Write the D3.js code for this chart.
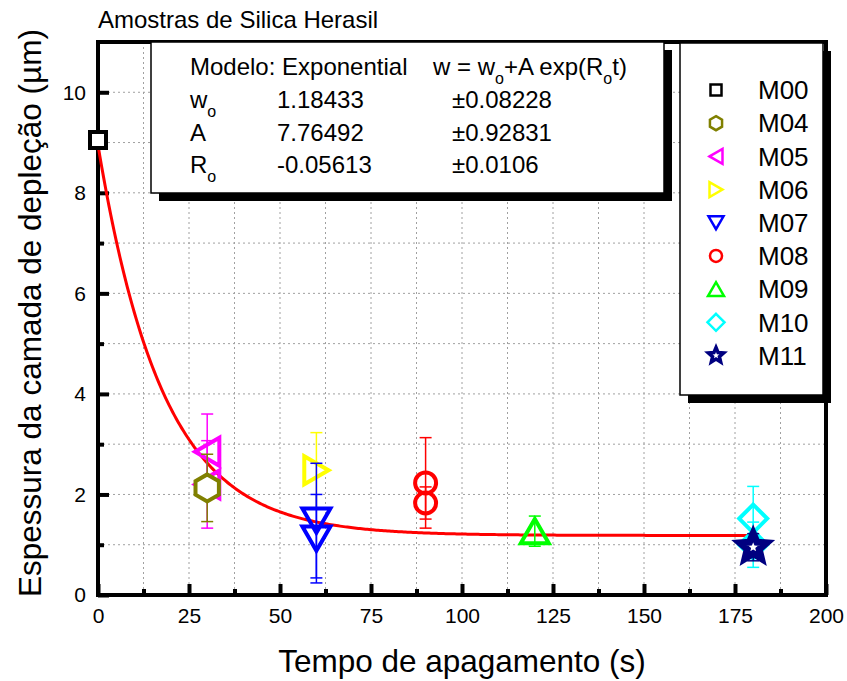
<!DOCTYPE html>
<html>
<head>
<meta charset="utf-8">
<script src="https://cdn.jsdelivr.net/npm/d3@7"></script>
<style>
  body { margin: 0; background: #fff; }
  svg { display: block; font-family: "Liberation Sans", Arial, sans-serif; }
</style>
</head>
<body>
<svg id="chart" width="847" height="681"></svg>
<script>
// ---- data ----
const seriesNames  = ["M00", "M04", "M05", "M06", "M07", "M08", "M09", "M10", "M11"];
const seriesColors = ["#000000", "#808000", "#ff00ff", "#ffff00", "#0000ff", "#ff0000", "#00ff00", "#00ffff", "#000080"];
const seriesShapes = ["square", "hexagon", "triangleLeft", "triangleRight", "triangleDown", "circle", "triangleUp", "diamond", "star"];
const seriesTimes  = [[0], [30], [30, 30], [60], [60, 60], [90, 90], [120], [180, 180], [180]];
const seriesDepths = [[9.05], [2.13], [2.85, 2.2], [2.48], [1.48, 1.12], [2.23, 1.83], [1.27], [1.52, 1.0], [0.95]];
const seriesErrors = [[0], [0.67], [0.75, 0.87], [0.75], [1.14, 0.88], [0.9, 0.32], [0.3], [0.64, 0.45], [0.27]];
const drawOrder    = [2, 1, 3, 4, 5, 6, 7, 8, 0];

const xTicks = [0, 25, 50, 75, 100, 125, 150, 175, 200];
const yTicks = [0, 2, 4, 6, 8, 10];

// exponential decay fit w = wo + A exp(Ro t)
const fitW0 = 1.18433, fitA = 7.76492, fitR0 = -0.05613;
const paramNames  = ["w", "A", "R"];
const paramSubs   = ["o", "", "o"];
const paramValues = ["1.18433", "7.76492", "-0.05613"];
const paramErrors = ["\u00b10.08228", "\u00b10.92831", "\u00b10.0106"];

// ---- layout ----
const svg = d3.select("#chart");
const plotL = 98, plotR = 826, plotT = 42, plotB = 595;
const x = d3.scaleLinear().domain([0, 200]).range([plotL, plotR]);
const y = d3.scaleLinear().domain([0, 11]).range([plotB, plotT]);

// symbol outlines centred on (0,0)
function shapePath(shape, s) {
  const p = d3.path();
  const r3 = Math.sqrt(3);
  switch (shape) {
    case "square":
      p.rect(-s, -s, 2 * s, 2 * s); break;
    case "hexagon":
      for (let i = 0; i < 6; i++) {
        const a = -Math.PI / 2 + i * Math.PI / 3;
        i ? p.lineTo(s * Math.cos(a), s * Math.sin(a)) : p.moveTo(s * Math.cos(a), s * Math.sin(a));
      }
      p.closePath(); break;
    case "triangleLeft": {
      const h = s * r3 / 2;
      p.moveTo(-h, 0); p.lineTo(h, -s); p.lineTo(h, s); p.closePath(); break;
    }
    case "triangleRight": {
      const h = s * r3 / 2;
      p.moveTo(h, 0); p.lineTo(-h, -s); p.lineTo(-h, s); p.closePath(); break;
    }
    case "triangleDown": {
      const h = s * r3 / 2;
      p.moveTo(-s, -h); p.lineTo(s, -h); p.lineTo(0, h); p.closePath(); break;
    }
    case "triangleUp": {
      const h = s * r3 / 2;
      p.moveTo(-s, h); p.lineTo(s, h); p.lineTo(0, -h); p.closePath(); break;
    }
    case "circle":
      p.arc(0, 0, s, 0, 2 * Math.PI); p.closePath(); break;
    case "diamond":
      p.moveTo(0, -s); p.lineTo(s, 0); p.lineTo(0, s); p.lineTo(-s, 0); p.closePath(); break;
    case "star":
      for (let i = 0; i < 10; i++) {
        const rr = i % 2 ? s * 0.45 : s;
        const a = -Math.PI / 2 + i * Math.PI / 5;
        i ? p.lineTo(rr * Math.cos(a), rr * Math.sin(a)) : p.moveTo(rr * Math.cos(a), rr * Math.sin(a));
      }
      p.closePath(); break;
  }
  return p.toString();
}

const plotSize   = { square: 8, hexagon: 13.5, triangleLeft: 14, triangleRight: 14, triangleDown: 14, circle: 10.5, triangleUp: 14, diamond: 14, star: 14 };
const legendSize = { square: 5.5, hexagon: 7, triangleLeft: 7.5, triangleRight: 7.5, triangleDown: 7.5, circle: 6, triangleUp: 8, diamond: 8.5, star: 8 };
const solidFill  = { square: true, hexagon: true, star: true };

// ---- grid ----
const gridX = d3.range(12.5, 200, 12.5);
const gridY = d3.range(1, 11, 1);
const grid = svg.append("g").attr("stroke", "#a0a0a0").attr("stroke-width", 1).attr("stroke-dasharray", "2,3");
grid.selectAll("line.gx").data(gridX).join("line")
  .attr("x1", d => x(d)).attr("x2", d => x(d)).attr("y1", plotT).attr("y2", plotB);
grid.selectAll("line.gy").data(gridY).join("line")
  .attr("x1", plotL).attr("x2", plotR).attr("y1", d => y(d)).attr("y2", d => y(d));

// ---- axes (ticks point inward) ----
const xAxis = svg.append("g").attr("transform", `translate(0,${plotB})`)
  .call(d3.axisBottom(x).tickValues(xTicks).tickSizeInner(-11).tickSizeOuter(0).tickPadding(13));
const yAxis = svg.append("g").attr("transform", `translate(${plotL},0)`)
  .call(d3.axisLeft(y).tickValues(yTicks).tickSizeInner(-11).tickSizeOuter(0).tickPadding(12));
const xMinor = svg.append("g").attr("transform", `translate(0,${plotB})`)
  .call(d3.axisBottom(x).tickValues(d3.range(12.5, 200, 25)).tickSizeInner(-6).tickSizeOuter(0).tickFormat(""));
const yMinor = svg.append("g").attr("transform", `translate(${plotL},0)`)
  .call(d3.axisLeft(y).tickValues([1, 3, 5, 7, 9]).tickSizeInner(-6).tickSizeOuter(0).tickFormat(""));
[xAxis, yAxis, xMinor, yMinor].forEach(g => {
  g.select(".domain").remove();
  g.selectAll(".tick line").attr("stroke", "#000").attr("stroke-width", 4);
  g.selectAll(".tick text").attr("fill", "#000").attr("font-size", 21).attr("font-family", "Liberation Sans, Arial, sans-serif");
});

// ---- frame ----
svg.append("rect").attr("x", plotL).attr("y", plotT).attr("width", plotR - plotL).attr("height", plotB - plotT)
  .attr("fill", "none").attr("stroke", "#000").attr("stroke-width", 4);

// ---- fitted curve (under the markers) ----
const fitT = d3.range(0, 180.01, 0.5);
svg.append("path")
  .datum(fitT)
  .attr("fill", "none").attr("stroke", "#ff0000").attr("stroke-width", 3)
  .attr("d", d3.line().x(t => x(t)).y(t => y(fitW0 + fitA * Math.exp(fitR0 * t))));

// ---- data points with error bars ----
const capHalf = 6;
drawOrder.forEach(si => {
  const g = svg.append("g");
  const color = seriesColors[si];
  const pts = seriesTimes[si].map((t, i) => ({ t, v: seriesDepths[si][i], e: seriesErrors[si][i] }));
  pts.forEach(d => {
    if (d.e > 0) {
      const eb = g.append("g").attr("stroke", color).attr("stroke-width", 1.5);
      eb.append("line").attr("x1", x(d.t)).attr("x2", x(d.t)).attr("y1", y(d.v + d.e)).attr("y2", y(d.v - d.e));
      eb.append("line").attr("x1", x(d.t) - capHalf).attr("x2", x(d.t) + capHalf).attr("y1", y(d.v + d.e)).attr("y2", y(d.v + d.e));
      eb.append("line").attr("x1", x(d.t) - capHalf).attr("x2", x(d.t) + capHalf).attr("y1", y(d.v - d.e)).attr("y2", y(d.v - d.e));
    }
  });
  const shape = seriesShapes[si];
  g.selectAll("path.sym").data(pts).join("path")
    .attr("transform", d => `translate(${x(d.t)},${y(d.v)})`)
    .attr("d", shapePath(shape, plotSize[shape]))
    .attr("fill", solidFill[shape] ? "#fff" : "none")
    .attr("stroke", color)
    .attr("stroke-width", shape === "star" ? 7 : 4)
    .attr("stroke-linejoin", "miter");
});

// ---- fit parameter table ----
const tab = svg.append("g");
tab.append("rect").attr("x", 159).attr("y", 50).attr("width", 513).attr("height", 151).attr("fill", "#000");
tab.append("rect").attr("x", 151).attr("y", 42).attr("width", 513).attr("height", 151)
  .attr("fill", "#fff").attr("stroke", "#000").attr("stroke-width", 1.5);
const tfs = 24;
tab.append("text").attr("x", 190).attr("y", 75).attr("font-size", tfs).text("Modelo: Exponential");
const eq = tab.append("text").attr("x", 433).attr("y", 75).attr("font-size", tfs);
eq.append("tspan").text("w = w");
eq.append("tspan").attr("font-size", 16).attr("dy", 9).text("o");
eq.append("tspan").attr("dy", -9).text("+A exp(R");
eq.append("tspan").attr("font-size", 16).attr("dy", 9).text("o");
eq.append("tspan").attr("dy", -9).text("t)");
const rowY = [108, 140.5, 173];
paramNames.forEach((n, i) => {
  const t = tab.append("text").attr("x", 190).attr("y", rowY[i]).attr("font-size", tfs);
  t.append("tspan").text(n);
  if (paramSubs[i]) t.append("tspan").attr("font-size", 16).attr("dy", 9).text(paramSubs[i]);
  tab.append("text").attr("x", 277).attr("y", rowY[i]).attr("font-size", tfs).text(paramValues[i]);
  tab.append("text").attr("x", 452).attr("y", rowY[i]).attr("font-size", tfs).text(paramErrors[i]);
});

// ---- legend ----
const leg = svg.append("g");
leg.append("rect").attr("x", 688).attr("y", 51).attr("width", 143).attr("height", 352).attr("fill", "#000");
leg.append("rect").attr("x", 680).attr("y", 43).attr("width", 143).attr("height", 352)
  .attr("fill", "#fff").attr("stroke", "#000").attr("stroke-width", 1.5);
const legRow = d3.scaleLinear().domain([0, 8]).range([90, 355.5]);
seriesNames.forEach((name, i) => {
  const shape = seriesShapes[i];
  leg.append("path")
    .attr("transform", `translate(716,${legRow(i)})`)
    .attr("d", shapePath(shape, legendSize[shape]))
    .attr("fill", "#fff").attr("stroke", seriesColors[i])
    .attr("stroke-width", shape === "star" ? 3.5 : 2.5);
  leg.append("text").attr("x", 758).attr("y", legRow(i) + 9.3).attr("font-size", 26).text(name);
});

// ---- titles ----
svg.append("text").attr("x", 98).attr("y", 28).attr("font-size", 24).text("Amostras de Silica Herasil");
svg.append("text").attr("x", (plotL + plotR) / 2).attr("y", 672).attr("text-anchor", "middle")
  .attr("font-size", 31.5).text("Tempo de apagamento (s)");
svg.append("text").attr("transform", "translate(41,313) rotate(-90)").attr("text-anchor", "middle")
  .attr("font-size", 31.5).text("Espessura da camada de depleção (µm)");
</script>
</body>
</html>
